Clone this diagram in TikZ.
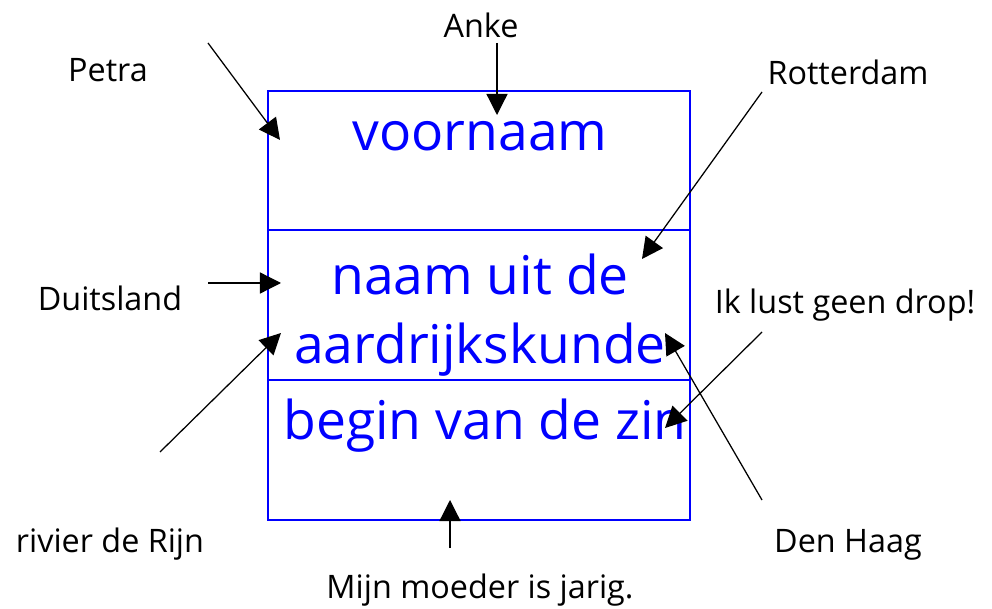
\documentclass[tikz,border=0pt]{standalone}
\usepackage{fontspec}
\setmainfont{Open Sans}
\usetikzlibrary{arrows.meta}

\begin{document}
\begin{tikzpicture}[x = 0.025cm, y = -0.025cm,
        label/.style = {font = \fontsize{23}{27}\selectfont},
        part/.style = {text = blue, font = \fontsize{38}{44}\selectfont},
        wijs/.style = {-{Triangle[length = 15pt, width = 15pt]}, line width = 0.9pt}]
    \useasboundingbox (0, 0) rectangle (992, 609);
    % het vak met de drie delen
    \draw[blue, line width = 1.3pt] (268, 91) rectangle (690, 520);
    \draw[blue, line width = 1.3pt] (268, 230) -- (690, 230);
    \draw[blue, line width = 1.3pt] (268, 380) -- (690, 380);
    \node[part] (voornaam) at (480, 136){voornaam};
    \node[part] (naam) at (480, 274){naam uit de};
    \node[part] (aardrijk) at (480, 350){aardrijkskunde};
    \node[part] (zin) at (485, 426){begin van de zin};
    % de voorbeelden
    \node[label] (anke) at (481, 25){Anke};
    \node[label] (petra) at (108, 70){Petra};
    \node[label] (rotterdam) at (848, 72){Rotterdam};
    \node[label] (duitsland) at (110, 298){Duitsland};
    \node[label] (drop) at (845, 305){Ik lust geen drop!};
    \node[label] (rijn) at (110, 544){rivier de Rijn};
    \node[label] (haag) at (848, 545){Den Haag};
    \node[label] (moeder) at (480, 590){Mijn moeder is jarig.};
    % begin- en eindpunten van de pijlen
    \coordinate (a1) at (497, 43);  \coordinate (a2) at (497, 115);
    \coordinate (p1) at (208, 43);  \coordinate (p2) at (280, 140);
    \coordinate (r1) at (762, 92);  \coordinate (r2) at (642, 259);
    \coordinate (d1) at (208, 283); \coordinate (d2) at (281, 283);
    \coordinate (i1) at (762, 332); \coordinate (i2) at (665, 428);
    \coordinate (j1) at (160, 452); \coordinate (j2) at (281, 333);
    \coordinate (h1) at (762, 500); \coordinate (h2) at (665, 333);
    \coordinate (m1) at (450, 548); \coordinate (m2) at (450, 500);
    \draw[wijs] (a1) -- (a2);
    \draw[wijs] (p1) -- (p2);
    \draw[wijs] (r1) -- (r2);
    \draw[wijs] (d1) -- (d2);
    \draw[wijs] (i1) -- (i2);
    \draw[wijs] (j1) -- (j2);
    \draw[wijs] (h1) -- (h2);
    \draw[wijs] (m1) -- (m2);
\end{tikzpicture}
\end{document}
